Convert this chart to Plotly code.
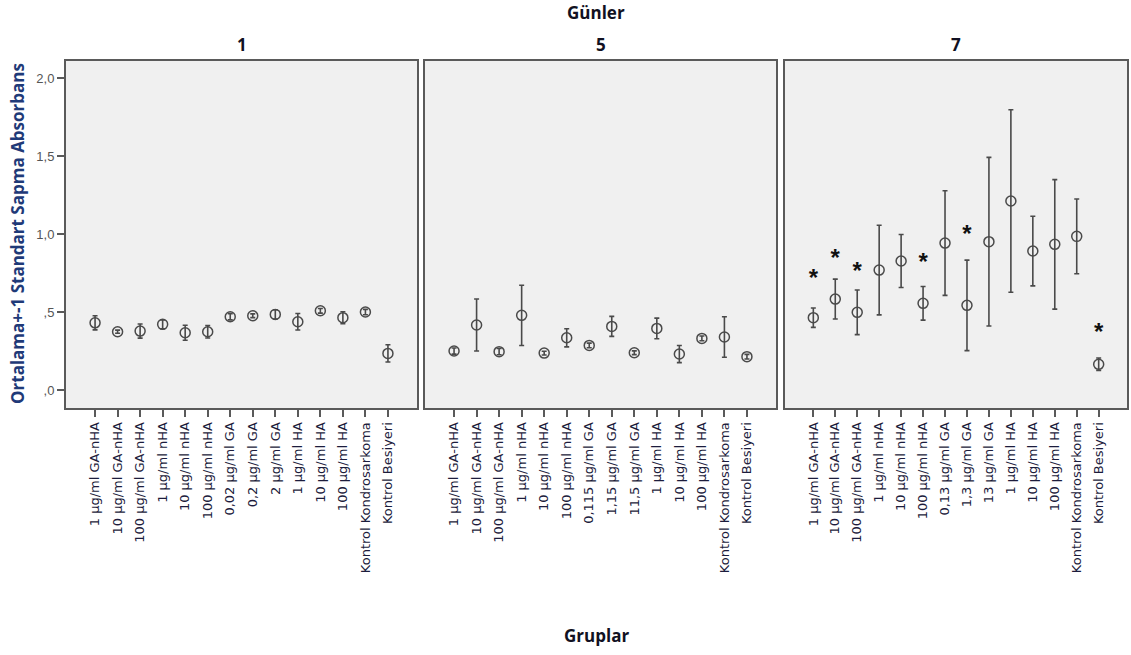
import plotly.graph_objects as go

# Group labels per day (x categories)
labels_d1 = ["1 µg/ml GA-nHA", "10 µg/ml GA-nHA", "100 µg/ml GA-nHA", "1 µg/ml nHA",
             "10 µg/ml nHA", "100 µg/ml nHA", "0,02 µg/ml GA", "0,2 µg/ml GA", "2 µg/ml GA",
             "1 µg/ml HA", "10 µg/ml HA", "100 µg/ml HA", "Kontrol Kondrosarkoma", "Kontrol Besiyeri"]
labels_d5 = ["1 µg/ml GA-nHA", "10 µg/ml GA-nHA", "100 µg/ml GA-nHA", "1 µg/ml nHA",
             "10 µg/ml nHA", "100 µg/ml nHA", "0,115 µg/ml GA", "1,15 µg/ml GA", "11,5 µg/ml GA",
             "1 µg/ml HA", "10 µg/ml HA", "100 µg/ml HA", "Kontrol Kondrosarkoma", "Kontrol Besiyeri"]
labels_d7 = ["1 µg/ml GA-nHA", "10 µg/ml GA-nHA", "100 µg/ml GA-nHA", "1 µg/ml nHA",
             "10 µg/ml nHA", "100 µg/ml nHA", "0,13 µg/ml GA", "1,3 µg/ml GA", "13 µg/ml GA",
             "1 µg/ml HA", "10 µg/ml HA", "100 µg/ml HA", "Kontrol Kondrosarkoma", "Kontrol Besiyeri"]

# Mean absorbance and standard deviation per group
mean_d1 = [0.431, 0.374, 0.378, 0.421, 0.367, 0.374, 0.470, 0.476, 0.485, 0.438, 0.508, 0.464, 0.500, 0.235]
sd_d1 = [0.045, 0.010, 0.045, 0.028, 0.048, 0.040, 0.020, 0.012, 0.030, 0.053, 0.015, 0.038, 0.017, 0.055]

mean_d5 = [0.250, 0.417, 0.246, 0.479, 0.237, 0.335, 0.286, 0.408, 0.239, 0.395, 0.231, 0.331, 0.340, 0.214]
sd_d5 = [0.020, 0.167, 0.020, 0.193, 0.012, 0.058, 0.015, 0.064, 0.012, 0.066, 0.055, 0.015, 0.130, 0.015]

mean_d7 = [0.464, 0.583, 0.498, 0.769, 0.827, 0.556, 0.942, 0.543, 0.951, 1.212, 0.891, 0.934, 0.985, 0.165]
sd_d7 = [0.062, 0.128, 0.143, 0.287, 0.170, 0.108, 0.335, 0.290, 0.540, 0.585, 0.223, 0.415, 0.240, 0.040]

# Significance markers on day 7 (group index, height)
star_groups_d7 = [0, 1, 2, 5, 7, 13]
star_heights_d7 = [0.705, 0.833, 0.752, 0.806, 0.989, 0.357]

days = ["1", "5", "7"]
y_tickvals = [0.0, 0.5, 1.0, 1.5, 2.0]
y_ticktext = [",0", ",5", "1,0", "1,5", "2,0"]

W, H = 1131, 655
panels_px = [(66, 417), (425, 776), (785, 1127)]
top_px, bottom_px = 61, 408
ydom = [1 - bottom_px / H, 1 - top_px / H]

fig = go.Figure()
series = [(labels_d1, mean_d1, sd_d1), (labels_d5, mean_d5, sd_d5), (labels_d7, mean_d7, sd_d7)]
frame_col = "#5a5a5a"
mark_col = "#4a4a4a"

for i, (labs, means, sds) in enumerate(series):
    xa = "x" if i == 0 else f"x{i+1}"
    ya = "y" if i == 0 else f"y{i+1}"
    fig.add_trace(go.Scatter(
        x=list(range(len(labs))), y=means, mode="markers",
        marker=dict(symbol="circle-open", size=10, color=mark_col, line=dict(width=1.5, color=mark_col)),
        error_y=dict(type="data", array=sds, visible=True, color=mark_col, thickness=1.6, width=2.5),
        xaxis=xa, yaxis=ya, showlegend=False, hoverinfo="skip"))
    l, r = panels_px[i]
    ax = dict(domain=[l / W, r / W], range=[-1.29, len(labs) - 1 + 1.29],
              tickmode="array", tickvals=list(range(len(labs))), ticktext=labs,
              tickangle=-90, ticks="outside", ticklen=7, tickwidth=1.5, tickcolor=frame_col,
              tickfont=dict(family="DejaVu Sans, Verdana", size=13, color="#1c1c3c"),
              showline=True, linecolor=frame_col, linewidth=2, mirror=True,
              showgrid=False, zeroline=False, anchor=ya, fixedrange=True)
    ay = dict(domain=ydom, range=[-0.115, 2.109], showline=True, linecolor=frame_col,
              linewidth=2, mirror=True, showgrid=False, zeroline=False, anchor=xa, fixedrange=True)
    if i == 0:
        ay.update(tickmode="array", tickvals=y_tickvals, ticktext=y_ticktext, ticks="outside",
                  ticklen=7, tickwidth=1.5, tickcolor=frame_col,
                  tickfont=dict(family="Liberation Sans, Arial", size=13, color="#555555"))
    else:
        ay.update(showticklabels=False, ticks="")
    fig.layout["xaxis" if i == 0 else f"xaxis{i+1}"] = ax
    fig.layout["yaxis" if i == 0 else f"yaxis{i+1}"] = ay

# Asterisks marking significant groups on day 7
fig.add_trace(go.Scatter(
    x=star_groups_d7, y=star_heights_d7, mode="text", text=["<b>*</b>"] * len(star_groups_d7),
    textfont=dict(family="Liberation Sans, Arial", size=24, color="#111111"),
    textposition="middle center", xaxis="x3", yaxis="y3", showlegend=False, hoverinfo="skip"))

title_font = dict(family="Open Sans, Noto Sans", size=17, color="#111122")
ann = [
    dict(text="<b>Günler</b>", x=596 / W, y=1 - 12 / H),
    dict(text="<b>Gruplar</b>", x=596 / W, y=1 - 635 / H),
]
for i, d in enumerate(days):
    l, r = panels_px[i]
    ann.append(dict(text=f"<b>{d}</b>", x=(l + r) / 2 / W, y=1 - 44 / H))
annotations = [dict(a, xref="paper", yref="paper", showarrow=False, font=title_font,
                    xanchor="center", yanchor="middle") for a in ann]
annotations.append(dict(text="<b>Ortalama+-1 Standart Sapma Absorbans</b>", x=18 / W,
                        y=1 - 234 / H, xref="paper", yref="paper", showarrow=False, textangle=-90,
                        font=dict(family="Open Sans, Noto Sans", size=17, color="#1f3a78"),
                        xanchor="center", yanchor="middle"))

fig.update_layout(width=W, height=H, margin=dict(l=0, r=0, t=0, b=0),
                  paper_bgcolor="white", plot_bgcolor="#f0f0f0", annotations=annotations)

fig.write_html("out.html", config={"displayModeBar": False})
